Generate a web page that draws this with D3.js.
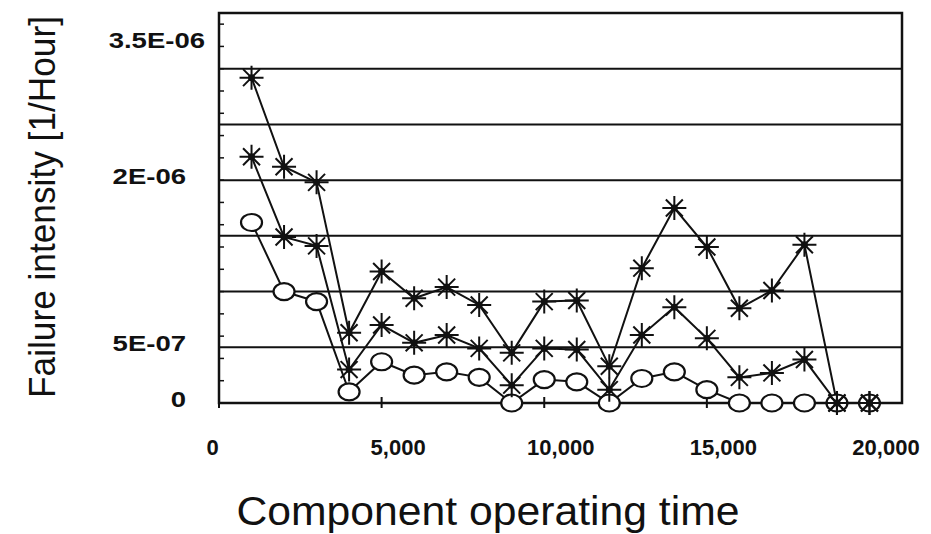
<!DOCTYPE html>
<html>
<head>
<meta charset="utf-8">
<script src="https://cdn.jsdelivr.net/npm/d3@7"></script>
<style>
  html, body { margin: 0; padding: 0; background: #fff; }
  svg { display: block; font-family: "Liberation Sans", Arial, sans-serif; }
</style>
</head>
<body>
<svg id="chart" width="931" height="534"></svg>
<script>
// operating hours of each observation
var hours = [1000, 2000, 3000, 4000, 5000, 6000, 7000, 8000, 9000, 10000,
             11000, 12000, 13000, 14000, 15000, 16000, 17000, 18000, 19000, 20000];

// failure intensity [1/Hour]
var upperStars = [2.92e-6, 2.12e-6, 1.98e-6, 6.3e-7, 1.18e-6, 9.4e-7, 1.04e-6, 8.8e-7, 4.5e-7, 9.1e-7,
                  9.2e-7, 3.3e-7, 1.21e-6, 1.75e-6, 1.40e-6, 8.5e-7, 1.01e-6, 1.42e-6, 0, 0];
var lowerStars = [2.21e-6, 1.49e-6, 1.41e-6, 3.0e-7, 7.0e-7, 5.4e-7, 6.1e-7, 4.9e-7, 1.6e-7, 4.9e-7,
                  4.8e-7, 1.2e-7, 6.1e-7, 8.6e-7, 5.8e-7, 2.3e-7, 2.7e-7, 3.9e-7, 0, 0];
var circles    = [1.62e-6, 1.00e-6, 9.1e-7, 1.0e-7, 3.7e-7, 2.5e-7, 2.8e-7, 2.3e-7, 0, 2.1e-7,
                  1.9e-7, 0, 2.2e-7, 2.8e-7, 1.2e-7, 0, 0, 0, 0, 0];

var xTickValues = [0, 5000, 10000, 15000, 20000];
var xTickLabels = ["0", "5,000", "10,000", "15,000", "20,000"];
var yTickValues = [0, 5e-7, 2e-6, 3.5e-6];
var yTickLabels = ["0", "5E-07", "2E-06", "3.5E-06"];

var xTitle = "Component operating time";
var yTitle = "Failure intensity [1/Hour]";

// plot frame (note: "top" is reserved on window, so use a prefix)
var plotLeft = 219, plotRight = 902, plotTop = 13, plotBottom = 403;

var svg = d3.select("#chart");

var x = d3.scaleLinear().domain([0, 21000]).range([plotLeft, plotRight]);
var y = d3.scaleLinear().domain([0, 3.5e-6]).range([plotBottom, plotTop]);

// horizontal grid every 5E-07
svg.append("g")
  .selectAll("line")
  .data(y.ticks(7))
  .enter().append("line")
  .attr("x1", plotLeft).attr("x2", plotRight)
  .attr("y1", d => y(d)).attr("y2", d => y(d))
  .attr("stroke", "#111")
  .attr("stroke-width", 2);

// small ticks on the left axis
svg.append("g")
  .selectAll("line")
  .data(y.ticks(14))
  .enter().append("line")
  .attr("x1", plotLeft).attr("x2", plotLeft + 5)
  .attr("y1", d => y(d)).attr("y2", d => y(d))
  .attr("stroke", "#111")
  .attr("stroke-width", 1.5);

// ticks crossing the bottom axis
svg.append("g")
  .selectAll("line")
  .data(xTickValues)
  .enter().append("line")
  .attr("x1", d => x(d)).attr("x2", d => x(d))
  .attr("y1", plotBottom - 6).attr("y2", plotBottom + 5)
  .attr("stroke", "#111")
  .attr("stroke-width", 2);

// frame
svg.append("rect")
  .attr("x", plotLeft).attr("y", plotTop)
  .attr("width", plotRight - plotLeft).attr("height", plotBottom - plotTop)
  .attr("fill", "none")
  .attr("stroke", "#111")
  .attr("stroke-width", 2.5);

// series lines
var line = d3.line()
  .x((d, i) => x(hours[i]))
  .y(d => y(d));

[upperStars, lowerStars, circles].forEach(function (s) {
  svg.append("path")
    .datum(s)
    .attr("fill", "none")
    .attr("stroke", "#111")
    .attr("stroke-width", 2)
    .attr("d", line);
});

// circle markers
svg.append("g")
  .selectAll("ellipse")
  .data(circles)
  .enter().append("ellipse")
  .attr("cx", (d, i) => x(hours[i]))
  .attr("cy", d => y(d))
  .attr("rx", 10.5).attr("ry", 8.5)
  .attr("fill", "#fff")
  .attr("stroke", "#111")
  .attr("stroke-width", 2.2);

// asterisk markers
var starPath = "";
[0, 45, 90, 135].forEach(function (a) {
  var r = 12, dx = r * Math.cos(a * Math.PI / 180), dy = r * Math.sin(a * Math.PI / 180);
  starPath += "M" + (-dx) + "," + (-dy) + "L" + dx + "," + dy;
});

[upperStars, lowerStars].forEach(function (s) {
  var g = svg.append("g")
    .selectAll("g")
    .data(s)
    .enter().append("g")
    .attr("transform", (d, i) => "translate(" + x(hours[i]) + "," + y(d) + ")");
  g.append("path")
    .attr("d", starPath)
    .attr("stroke", "#111")
    .attr("stroke-width", 2);
  g.append("circle")
    .attr("r", 3.5)
    .attr("fill", "#111");
});

// y axis labels (the figure draws them a bit wide)
var yAxis = svg.append("g")
  .attr("transform", "translate(" + plotLeft + ",0)")
  .call(d3.axisLeft(y)
    .tickValues(yTickValues)
    .tickFormat((d, i) => yTickLabels[i])
    .tickSize(0)
    .tickPadding(33));
yAxis.select(".domain").remove();
yAxis.selectAll("text")
  .attr("font-family", "'Liberation Sans', Arial, sans-serif")
  .attr("font-size", 22)
  .attr("font-weight", "bold")
  .attr("fill", "#111")
  .attr("dy", "0.15em")
  .each(function () {
    var n = this;
    n.setAttribute("textLength", n.getComputedTextLength() * 1.25);
    n.setAttribute("lengthAdjust", "spacingAndGlyphs");
  });
// the top label sits below the frame corner in the original
yAxis.selectAll(".tick")
  .filter(d => d === 3.5e-6)
  .select("text")
  .attr("dx", 19)
  .attr("dy", "1.55em");

// x axis labels
var xAxis = svg.append("g")
  .attr("transform", "translate(16," + plotBottom + ")")
  .call(d3.axisBottom(x)
    .tickValues(xTickValues)
    .tickFormat((d, i) => xTickLabels[i])
    .tickSize(0)
    .tickPadding(36));
xAxis.select(".domain").remove();
xAxis.selectAll("text")
  .attr("font-family", "'Liberation Sans', Arial, sans-serif")
  .attr("font-size", 22)
  .attr("font-weight", "bold")
  .attr("fill", "#111");
// the "0" label is drawn left of the axis corner in the original
xAxis.selectAll(".tick")
  .filter(d => d === 0)
  .select("text")
  .attr("dx", -23);

// axis titles
svg.append("text")
  .attr("x", 488).attr("y", 525)
  .attr("text-anchor", "middle")
  .attr("font-size", 40)
  .attr("fill", "#111")
  .attr("textLength", 503)
  .attr("lengthAdjust", "spacingAndGlyphs")
  .text(xTitle);

svg.append("text")
  .attr("transform", "translate(55,207) rotate(-90)")
  .attr("text-anchor", "middle")
  .attr("font-size", 37)
  .attr("fill", "#111")
  .attr("textLength", 382)
  .attr("lengthAdjust", "spacingAndGlyphs")
  .text(yTitle);
</script>
</body>
</html>
